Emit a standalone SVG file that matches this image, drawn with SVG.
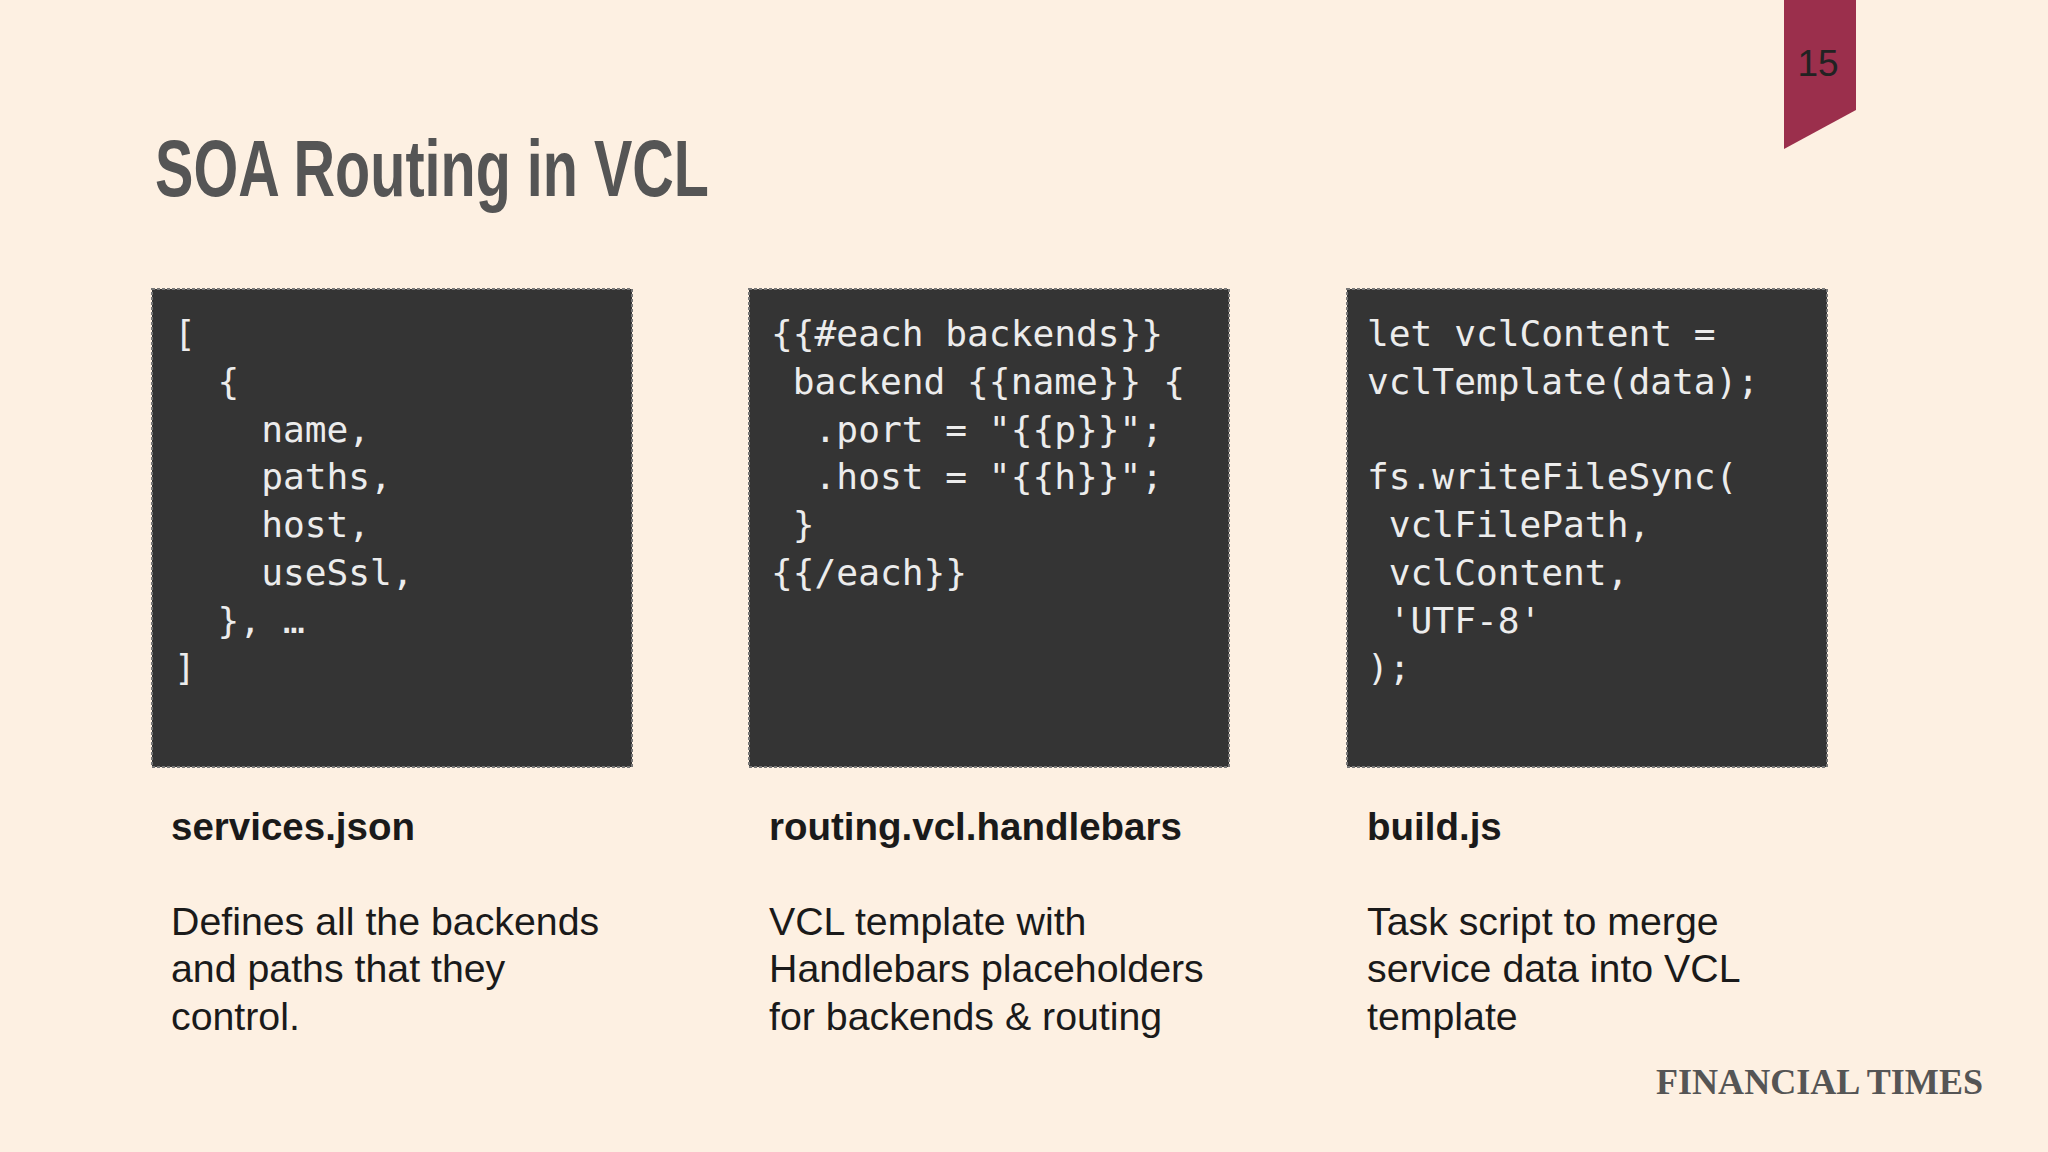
<svg xmlns="http://www.w3.org/2000/svg" width="2048" height="1152" viewBox="0 0 2048 1152">
<style>
.box{fill:#343434;stroke:#777;stroke-width:2;stroke-dasharray:3 2}
.code{font-family:"DejaVu Sans Mono",monospace;font-size:36.2px;fill:#ececec;white-space:pre}
.lbl{font-family:"Liberation Sans",Arial,sans-serif;font-size:38.5px;font-weight:bold;fill:#1a1a1a}
.desc{font-family:"Liberation Sans",Arial,sans-serif;font-size:39.3px;fill:#1a1a1a}
</style>
<rect width="2048" height="1152" fill="#fdf0e2"/>
<polygon points="1784,0 1856,0 1856,110 1784,149" fill="#9b2f4c"/>
<text x="1818" y="76" text-anchor="middle" font-family="Liberation Sans,Arial,sans-serif" font-size="37" fill="#222">15</text>
<text x="155" y="196" font-family="'Liberation Sans Narrow','Liberation Sans',sans-serif" font-weight="bold" font-size="80" fill="#555" textLength="554" lengthAdjust="spacingAndGlyphs">SOA Routing in VCL</text>
<g id="services">
<rect class="box" x="152" y="289" width="480" height="478"/>
<text class="code" xml:space="preserve"><tspan x="174" y="346">[</tspan><tspan x="174" y="394">  {</tspan><tspan x="174" y="442">    name,</tspan><tspan x="174" y="489">    paths,</tspan><tspan x="174" y="537">    host,</tspan><tspan x="174" y="585">    useSsl,</tspan><tspan x="174" y="633">  }, …</tspan><tspan x="174" y="680">]</tspan></text>
<text class="lbl" x="171" y="840">services.json</text>
<text class="desc"><tspan x="171" y="935">Defines all the backends</tspan><tspan x="171" y="982">and paths that they</tspan><tspan x="171" y="1030">control.</tspan></text>
</g>
<g id="routing">
<rect class="box" x="749" y="289" width="480" height="478"/>
<text class="code" xml:space="preserve"><tspan x="771" y="346">{{#each backends}}</tspan><tspan x="771" y="394"> backend {{name}} {</tspan><tspan x="771" y="442">  .port = "{{p}}";</tspan><tspan x="771" y="489">  .host = "{{h}}";</tspan><tspan x="771" y="537"> }</tspan><tspan x="771" y="585">{{/each}}</tspan></text>
<text class="lbl" x="769" y="840">routing.vcl.handlebars</text>
<text class="desc"><tspan x="769" y="935">VCL template with</tspan><tspan x="769" y="982">Handlebars placeholders</tspan><tspan x="769" y="1030">for backends &amp; routing</tspan></text>
</g>
<g id="build">
<rect class="box" x="1347" y="289" width="480" height="478"/>
<text class="code" xml:space="preserve"><tspan x="1367" y="346">let vclContent =</tspan><tspan x="1367" y="394">vclTemplate(data);</tspan><tspan x="1367" y="489">fs.writeFileSync(</tspan><tspan x="1367" y="537"> vclFilePath,</tspan><tspan x="1367" y="585"> vclContent,</tspan><tspan x="1367" y="633"> 'UTF-8'</tspan><tspan x="1367" y="680">);</tspan></text>
<text class="lbl" x="1367" y="840">build.js</text>
<text class="desc"><tspan x="1367" y="935">Task script to merge</tspan><tspan x="1367" y="982">service data into VCL</tspan><tspan x="1367" y="1030">template</tspan></text>
</g>
<g id="connectors"/>
<text x="1656" y="1094" font-family="'Liberation Serif',serif" font-weight="bold" font-size="35" fill="#555" textLength="327" lengthAdjust="spacingAndGlyphs">FINANCIAL TIMES</text>
</svg>
